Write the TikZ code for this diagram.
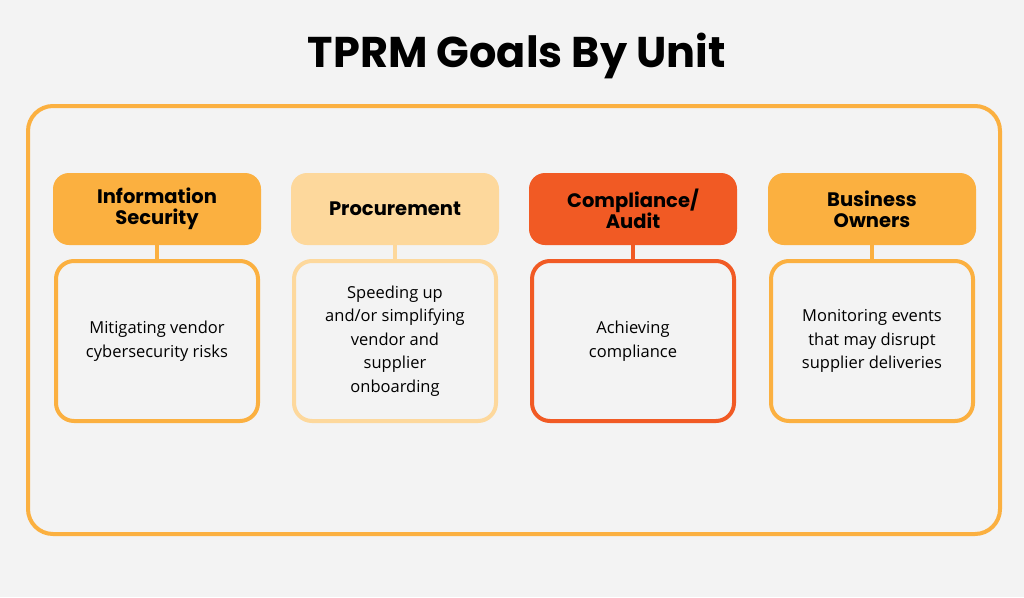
\documentclass[tikz,border=0pt]{standalone}
\usepackage{fontspec}
\setmainfont{Poppins}
\newfontfamily\bodyfont{Open Sans}
\definecolor{bg}{HTML}{F3F3F3}
\definecolor{orA}{HTML}{FBB040}
\definecolor{orB}{HTML}{FDD89C}
\definecolor{orC}{HTML}{F15A24}
\begin{document}
\begin{tikzpicture}[x=1pt,y=-1pt,
  hdr/.style={rounded corners=16pt,minimum width=208pt,minimum height=72pt,align=center,font=\fontsize{19.5}{21}\selectfont\bfseries,text=black},
  bodybox/.style={rounded corners=18pt,line width=4pt,fill=bg,minimum width=202pt,minimum height=160pt,align=center,font=\bodyfont\fontsize{16.5}{23.5}\selectfont},
  conn/.style={line width=4pt}]
\fill[bg] (0,0) rectangle (1024,597);
\useasboundingbox (0,0) rectangle (1024,597);
\node[font=\fontsize{43}{46}\selectfont\bfseries] (title) at (517,56) {TPRM Goals By Unit};
\draw[orA,line width=4pt,rounded corners=25pt] (28,106) rectangle (1000,534);
\foreach \n/\x/\c/\h/\b in {is/157/orA/{Information\\Security}/{Mitigating vendor\\cybersecurity risks},
  pr/395/orB/{Procurement}/{Speeding up\\and/or simplifying\\vendor and\\supplier\\onboarding},
  co/633/orC/{Compliance/\\Audit}/{Achieving\\compliance},
  bu/872/orA/{Business\\Owners}/{Monitoring events\\that may disrupt\\supplier deliveries}}{
  \node[hdr,fill=\c] (\n h) at (\x,209) {\h};
  \node[bodybox,draw=\c] (\n b) at (\x,341) {\b};
  \draw[conn,\c] (\n h.south) -- (\n b.north);
}
\end{tikzpicture}
\end{document}
